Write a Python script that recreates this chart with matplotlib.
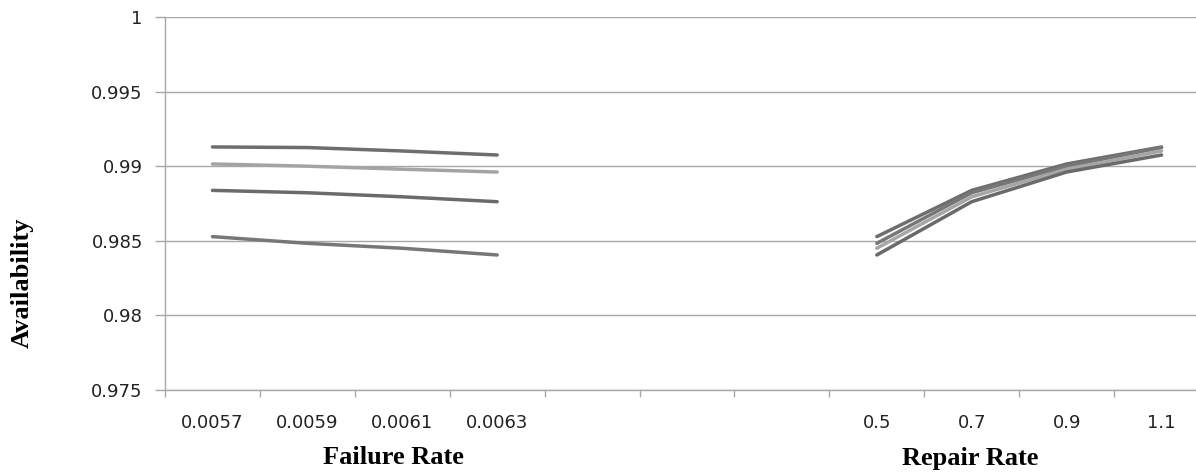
import matplotlib
matplotlib.use("Agg")
import matplotlib.pyplot as plt
from matplotlib.ticker import FixedLocator, FuncFormatter

# Categories on the shared x axis (blank slots separate the two groups)
categories = ['0.0057', '0.0059', '0.0061', '0.0063', '', '', '', '0.5', '0.7', '0.9', '1.1']
failure_rates = ['0.0057', '0.0059', '0.0061', '0.0063']
repair_rates = ['0.5', '0.7', '0.9', '1.1']

# Availability: rows = repair rate, columns = failure rate
avail_mu_05 = [0.98528, 0.98483, 0.98450, 0.98405]
avail_mu_07 = [0.98838, 0.98822, 0.98795, 0.98762]
avail_mu_09 = [0.99015, 0.99000, 0.98980, 0.98961]
avail_mu_11 = [0.99129, 0.99125, 0.99102, 0.99075]
avail_rows = [avail_mu_05, avail_mu_07, avail_mu_09, avail_mu_11]

y_ticks = [0.975, 0.98, 0.985, 0.99, 0.995, 1.0]

left_colors = ['#777777', '#6b6b6b', '#a4a4a4', '#6e6e6e']    # per repair rate
right_colors = ['#6e6e6e', '#777777', '#a6a6a6', '#6a6a6a']   # per failure rate

fig = plt.figure(figsize=(11.96, 4.72), dpi=100)
ax = fig.add_axes([165 / 1196, 1 - 390 / 472, (1209 - 165) / 1196, (390 - 17) / 472])

pos = {c: i for i, c in enumerate(categories) if c}
fx = [pos[f] for f in failure_rates]
rx = [pos[r] for r in repair_rates]

# Left group: availability vs failure rate, one line per repair rate
for row, col in zip(avail_rows, left_colors):
    ax.plot(fx, row, color=col, lw=2.5, solid_capstyle='round', zorder=3)

# Right group: availability vs repair rate, one line per failure rate
for j, col in enumerate(right_colors):
    ax.plot(rx, [avail_rows[i][j] for i in range(4)], color=col, lw=2.5,
            solid_capstyle='round', zorder=3)

ax.set_xlim(-0.5, len(categories) - 0.5)
ax.set_ylim(0.975, 1.0)
ax.yaxis.set_major_locator(FixedLocator(y_ticks))
ax.yaxis.set_major_formatter(FuncFormatter(lambda v, p: '%g' % round(v, 4)))
ax.set_xticks(range(len(categories)))
ax.set_xticklabels(categories)
ax.set_xticks([i - 0.5 for i in range(len(categories) + 1)], minor=True)

grid_col = '#a8a8a8'
ax.grid(axis='y', color=grid_col, lw=1.0, zorder=0)
for s in ['top', 'right']:
    ax.spines[s].set_visible(False)
for s in ['left', 'bottom']:
    ax.spines[s].set_color(grid_col)
    ax.spines[s].set_linewidth(1.0)

ax.tick_params(axis='x', which='major', length=0, pad=17, labelsize=13, labelcolor='#222222')
ax.tick_params(axis='x', which='minor', length=5, color=grid_col, width=1.0, direction='out')
ax.tick_params(axis='y', which='major', length=7, color=grid_col, width=1.0, pad=9,
               labelsize=13, labelcolor='#222222')

serif = ['Liberation Serif', 'DejaVu Serif']
fig.text(393 / 1196, 1 - 458 / 472, 'Failure Rate', ha='center', va='center',
         fontsize=19, fontweight='bold', family=serif)
fig.text(970 / 1196, 1 - 459 / 472, 'Repair Rate', ha='center', va='center',
         fontsize=19, fontweight='bold', family=serif)
fig.text(22 / 1196, 1 - 283 / 472, 'Availability', ha='center', va='center',
         rotation=90, fontsize=19, fontweight='bold', family=serif)

fig.savefig('out.png', dpi=100)
